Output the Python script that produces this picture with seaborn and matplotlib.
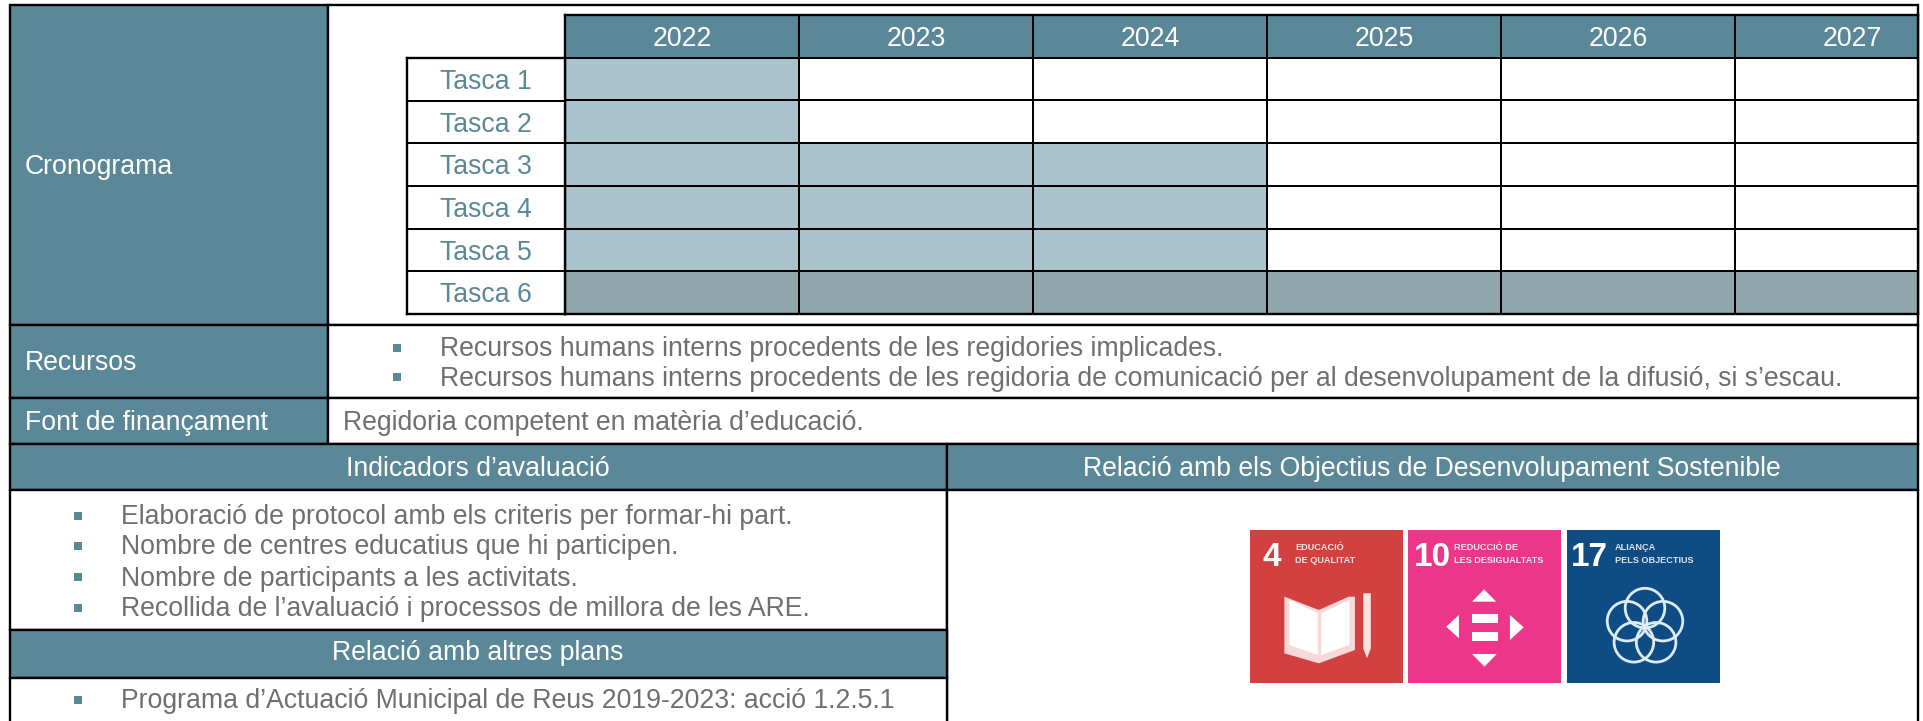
import numpy as np
import pandas as pd
import matplotlib
matplotlib.use("Agg")
import matplotlib.pyplot as plt
from matplotlib import font_manager
from matplotlib.colors import ListedColormap
from matplotlib.patches import Rectangle, Circle, Polygon
import seaborn as sns

years = ["2022", "2023", "2024", "2025", "2026", "2027"]
tasks = ["Tasca 1", "Tasca 2", "Tasca 3", "Tasca 4", "Tasca 5", "Tasca 6"]
tasca_1 = [1, 0, 0, 0, 0, 0]
tasca_2 = [1, 0, 0, 0, 0, 0]
tasca_3 = [1, 1, 1, 0, 0, 0]
tasca_4 = [1, 1, 1, 0, 0, 0]
tasca_5 = [1, 1, 1, 0, 0, 0]
tasca_6 = [2, 2, 2, 2, 2, 2]
recursos = [
    "Recursos humans interns procedents de les regidories implicades.",
    "Recursos humans interns procedents de les regidoria de comunicació per al desenvolupament de la difusió, si s’escau.",
]
financament = "Regidoria competent en matèria d’educació."
indicadors = [
    "Elaboració de protocol amb els criteris per formar-hi part.",
    "Nombre de centres educatius que hi participen.",
    "Nombre de participants a les activitats.",
    "Recollida de l’avaluació i processos de millora de les ARE.",
]
plans = ["Programa d’Actuació Municipal de Reus 2019-2023: acció 1.2.5.1"]

TEAL = "#5B8899"
LIGHT = "#A9C2CB"
DARK = "#90A6AD"
GREY = "#6F6F6F"
W, H = 1923, 721
FS = 19.15
LW = 1.7
GRID_LW = 1.2
DY = 2.5

sns.set_theme(style="white")
plt.rcParams["font.family"] = ["Liberation Sans", "DejaVu Sans"]
names = font_manager.get_font_names()
NUM_FONT = "Liberation Sans Narrow" if "Liberation Sans Narrow" in names else "Liberation Sans"

fig = plt.figure(figsize=(W / 100, H / 100), dpi=100, facecolor="white")
bg = fig.add_axes([0, 0, 1, 1], zorder=1)
bg.set_xlim(0, W)
bg.set_ylim(H, 0)
bg.axis("off")


def box(x0, y0, x1, y1, fc="white", ec="black", lw=LW, z=2):
    bg.add_patch(Rectangle((x0, y0), x1 - x0, y1 - y0, fc=fc, ec=ec, lw=lw, zorder=z))


def label(x, y, s, color="white", ha="left", fs=FS, **kw):
    bg.text(x, y + DY, s, color=color, ha=ha, va="center", fontsize=fs, zorder=5, **kw)


def bullets(x_b, x_t, ys, items):
    bg.scatter([x_b] * len(ys), [y + 1 for y in ys], marker="s", s=33, color=TEAL, lw=0, zorder=5)
    for y, s in zip(ys, items):
        label(x_t, y, s, color=GREY)


# table chrome
box(10, 5, 328, 325, fc=TEAL)
box(328, 5, 1918, 325)
box(10, 325, 328, 398, fc=TEAL)
box(328, 325, 1918, 398)
box(10, 398, 328, 444, fc=TEAL)
box(328, 398, 1918, 444)
box(10, 444, 947, 490, fc=TEAL)
box(947, 444, 1918, 490, fc=TEAL)
box(10, 490, 947, 630)
box(947, 490, 1918, 730)
box(10, 630, 947, 678, fc=TEAL)
box(10, 678, 947, 730)

label(25, 165, "Cronograma")
label(25, 361, "Recursos")
label(25, 421, "Font de finançament")
label(343, 421, financament, color=GREY)
label(478, 466, "Indicadors d’avaluació", ha="center")
label(1432, 466, "Relació amb els Objectius de Desenvolupament Sostenible", ha="center")
label(478, 651, "Relació amb altres plans", ha="center")

bullets(397, 440, [347, 376], recursos)
bullets(78, 121, [515, 545, 576, 607], indicadors)
bullets(78, 121, [699], plans)


def grid_axes(x0, y0, x1, y1):
    return fig.add_axes([x0 / W, 1 - y1 / H, (x1 - x0) / W, (y1 - y0) / H], zorder=3)


def finish(ax, row_h):
    ax.set_xticks([])
    ax.set_yticks([])
    ax.set_xlabel("")
    ax.set_ylabel("")
    for t in ax.texts:
        x, y = t.get_position()
        t.set_position((x, y + DY / row_h))
    for s in ax.spines.values():
        s.set_visible(True)
        s.set_color("black")
        s.set_linewidth(LW)


# Gantt grid; the last year column is cut off by the table edge
matrix = pd.DataFrame(
    [[3] * len(years), tasca_1, tasca_2, tasca_3, tasca_4, tasca_5, tasca_6],
    index=[""] + tasks,
    columns=years,
)
annot = np.array([years] + [[""] * len(years)] * len(tasks))
gx0, gx1, gy0, gy1 = 565, 1918, 15, 314
ax = grid_axes(gx0, gy0, gx1, gy1)
sns.heatmap(
    matrix,
    ax=ax,
    cmap=ListedColormap(["white", LIGHT, DARK, TEAL]),
    vmin=-0.5,
    vmax=3.5,
    cbar=False,
    linewidths=GRID_LW,
    linecolor="black",
    annot=annot,
    fmt="",
    annot_kws={"color": "white", "fontsize": FS},
)
ax.set_xlim(0, (gx1 - gx0) / 234.0)
finish(ax, (gy1 - gy0) / 7)

# Task names column
ax2 = grid_axes(407, 58, 565, 314)
sns.heatmap(
    pd.DataFrame({"t": [0] * len(tasks)}, index=tasks),
    ax=ax2,
    cmap=ListedColormap(["white"]),
    cbar=False,
    linewidths=GRID_LW,
    linecolor="black",
    annot=np.array(tasks).reshape(-1, 1),
    fmt="",
    annot_kws={"color": TEAL, "fontsize": FS},
)
finish(ax2, (314 - 58) / 6)


# SDG icons
def icon(x0, color, num, num_x, line_x, lines):
    bg.add_patch(Rectangle((x0, 530), 152.5, 153, fc=color, ec="none", zorder=3))
    bg.text(num_x, 558, num, color="white", ha="center", va="center", fontsize=24,
            fontweight="bold", zorder=5, family=[NUM_FONT, "DejaVu Sans"])
    for y, s in zip((547.5, 560.5), lines):
        bg.text(line_x, y, s, color="white", alpha=0.85, ha="left", va="center",
                fontsize=6.6, fontweight="bold", zorder=5)


def zpoly(pts, color="white"):
    xy = [(1200 + x / 2.904, 500 + y / 3) for x, y in pts]
    bg.add_patch(Polygon(xy, closed=True, fc=color, ec="none", zorder=4))


icon(1250, "#D2403F", "4", 1272, 1295, ["EDUCACIÓ", "DE QUALITAT"])
icon(1408, "#EB368A", "10", 1432, 1454, ["REDUCCIÓ DE", "LES DESIGUALTATS"])
icon(1567, "#0F4C84", "17", 1589, 1615, ["ALIANÇA", "PELS OBJECTIUS"])

# book and pencil
zpoly([(245, 290), (345, 330), (432, 290), (450, 290), (450, 450), (345, 490), (245, 460)], "#F6D9D8")
zpoly([(260, 300), (342, 340), (342, 465), (260, 435)], "white")
zpoly([(352, 340), (434, 300), (434, 435), (352, 465)], "white")
zpoly([(474, 280), (496, 280), (496, 445), (485, 475), (474, 445)], "#FBE3E2")

# arrows and equals sign
zpoly([(790, 305), (860, 305), (825, 268)])
zpoly([(752, 345), (752, 415), (715, 380)])
zpoly([(900, 345), (900, 420), (940, 382)])
zpoly([(790, 462), (862, 462), (826, 500)])
zpoly([(790, 342), (866, 342), (866, 370), (790, 370)])
zpoly([(790, 395), (866, 395), (866, 422), (790, 422)])

# five rings
for ang in (90, 162, 234, 306, 18):
    cx = 1645 + 18.9 * np.cos(np.radians(ang))
    cy = 627 - 18.9 * np.sin(np.radians(ang))
    bg.add_patch(Circle((cx, cy), 19.8, fc="none", ec="#DCEBF5", lw=2.0, zorder=4))

fig.savefig("out.png", dpi=100, facecolor="white")
